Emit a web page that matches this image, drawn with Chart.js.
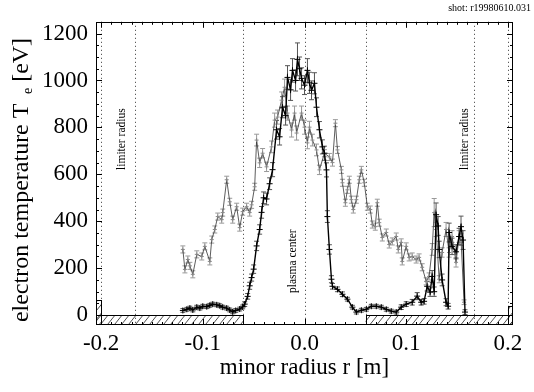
<!DOCTYPE html>
<html>
<head>
<meta charset="utf-8">
<script src="https://cdn.jsdelivr.net/npm/chart.js@4.4.1/dist/chart.umd.min.js"></script>
<style>
    html, body { margin: 0; padding: 0; background: #fff; }
    #wrap { position: relative; width: 534px; height: 392px; }
</style>
</head>
<body>
<div id="wrap"><canvas id="c"></canvas></div>
<script>
(function () {
    'use strict';

    // profile 1 (thick, black): radius [m], Te [eV], error [eV]
    const rA = [-0.1196, -0.1157, -0.1127, -0.1098, -0.1059, -0.1029, -0.1000, -0.0961, -0.0931, -0.0902,
        -0.0863, -0.0833, -0.0804, -0.0765, -0.0735, -0.0706, -0.0676, -0.0637, -0.0608, -0.0588,
        -0.0559, -0.0539, -0.0520, -0.0500, -0.0471, -0.0441, -0.0422, -0.0402, -0.0373, -0.0343,
        -0.0314, -0.0275, -0.0245, -0.0216, -0.0186, -0.0167, -0.0137, -0.0118, -0.0088, -0.0069,
        -0.0049, -0.0029, 0.0000, 0.0029, 0.0049, 0.0069, 0.0098, 0.0118, 0.0147, 0.0176,
        0.0196, 0.0216, 0.0225, 0.0245, 0.0265, 0.0275, 0.0324, 0.0373, 0.0422, 0.0471,
        0.0510, 0.0559, 0.0608, 0.0657, 0.0706, 0.0755, 0.0804, 0.0853, 0.0902, 0.0951,
        0.1000, 0.1059, 0.1108, 0.1147, 0.1176, 0.1206, 0.1235, 0.1255, 0.1275, 0.1294,
        0.1314, 0.1324, 0.1353, 0.1392, 0.1412, 0.1422, 0.1451, 0.1490, 0.1520, 0.1539,
        0.1559, 0.1578];
    const teA = [20, 25, 30, 22, 34, 30, 38, 36, 42, 47,
        44, 40, 34, 30, 22, 14, 20, 26, 35, 47,
        80, 125, 160, 196, 295, 365, 438, 500, 495, 560,
        620, 790, 760, 886, 850, 1013, 960, 1043, 1000, 1090,
        1050, 1009, 980, 1043, 990, 958, 988, 886, 790, 717,
        690, 619, 420, 280, 153, 123, 110, 89, 68, 34,
        13, 21, 25, 38, 38, 34, 25, 17, 13, 34,
        47, 55, 81, 55, 59, 123, 98, 165, 100, 428,
        380, 280, 150, 55, 38, 352, 293, 270, 335, 377,
        320, 13];
    const errA = [8, 8, 8, 8, 8, 8, 8, 8, 8, 8,
        8, 8, 8, 8, 8, 8, 8, 8, 8, 10,
        12, 15, 15, 18, 20, 20, 25, 25, 25, 25,
        30, 40, 35, 45, 40, 50, 45, 50, 45, 70,
        50, 45, 40, 50, 45, 40, 45, 40, 35, 30,
        30, 30, 25, 20, 15, 12, 10, 10, 8, 8,
        8, 8, 8, 8, 8, 8, 8, 8, 8, 10,
        10, 12, 15, 12, 12, 20, 18, 25, 20, 50,
        40, 35, 25, 15, 12, 40, 35, 30, 35, 45,
        40, 10];

    // profile 2 (thin, grey)
    const rB = [-0.1196, -0.1176, -0.1147, -0.1127, -0.1098, -0.1059, -0.1010, -0.0980, -0.0931, -0.0912,
        -0.0882, -0.0853, -0.0814, -0.0804, -0.0765, -0.0735, -0.0706, -0.0667, -0.0637, -0.0608,
        -0.0569, -0.0539, -0.0520, -0.0490, -0.0471, -0.0441, -0.0412, -0.0373, -0.0324, -0.0294,
        -0.0265, -0.0225, -0.0196, -0.0167, -0.0127, -0.0098, -0.0078, -0.0029, 0.0000, 0.0029,
        0.0049, 0.0078, 0.0118, 0.0147, 0.0196, 0.0245, 0.0275, 0.0304, 0.0324, 0.0363,
        0.0373, 0.0402, 0.0422, 0.0441, 0.0461, 0.0480, 0.0510, 0.0539, 0.0559, 0.0588,
        0.0618, 0.0647, 0.0667, 0.0696, 0.0716, 0.0735, 0.0765, 0.0804, 0.0833, 0.0863,
        0.0902, 0.0922, 0.0951, 0.0961, 0.1000, 0.1029, 0.1059, 0.1098, 0.1127, 0.1157,
        0.1196, 0.1225, 0.1255, 0.1275, 0.1294, 0.1324, 0.1353, 0.1392, 0.1422, 0.1451,
        0.1490, 0.1520, 0.1539, 0.1569];
    const teB = [280, 195, 237, 210, 174, 259, 250, 293, 229, 322,
        365, 420, 407, 437, 577, 483, 407, 462, 373, 441,
        462, 437, 470, 547, 746, 649, 690, 632, 717, 831,
        844, 916, 971, 861, 789, 861, 776, 861, 801, 734,
        801, 746, 704, 619, 690, 674, 650, 818, 704, 619,
        564, 479, 534, 577, 492, 450, 492, 577, 619, 564,
        462, 450, 386, 377, 479, 394, 331, 352, 301, 314,
        335, 280, 310, 229, 293, 246, 250, 237, 246, 204,
        144, 165, 280, 437, 365, 153, 267, 365, 267, 335,
        225, 335, 322, 55];
    const errB = [15, 15, 15, 15, 15, 15, 15, 15, 15, 15,
        15, 15, 15, 15, 15, 15, 15, 15, 15, 15,
        15, 15, 15, 15, 25, 20, 20, 20, 25, 30,
        30, 35, 35, 30, 30, 30, 30, 30, 30, 25,
        25, 25, 25, 20, 15, 15, 15, 15, 15, 15,
        15, 15, 15, 15, 15, 15, 15, 15, 15, 15,
        15, 15, 15, 15, 15, 15, 15, 15, 15, 15,
        15, 15, 15, 15, 15, 15, 15, 15, 15, 15,
        15, 15, 25, 60, 30, 15, 20, 30, 20, 25,
        20, 25, 25, 10];

    const xTicks = [-0.2, -0.1, 0.0, 0.1, 0.2];
    const yTicks = [0, 200, 400, 600, 800, 1000, 1200];

    // machine geometry [m]
    const markLines = [-0.2, -0.167, -0.06, 0.0, 0.06, 0.167, 0.2];
    const hatchSpans = [[-0.205, -0.06], [0.06, 0.205]];
    const wallBoxes = [[-0.205, -0.2, 65], [0.2, 0.205, 40]];
    const notes = [
        { text: 'limiter radius', r: -0.179, te: 750 },
        { text: 'limiter radius', r: 0.158, te: 750 },
        { text: 'plasma center', r: -0.011, te: 230 }
    ];

    const FONT = "'Liberation Serif', 'DejaVu Serif', serif";

    function points(rs, ts) {
        return rs.map(function (r, i) { return { x: r, y: ts[i] }; });
    }

    const decor = {
        id: 'decor',
        beforeDatasetsDraw: function (chart) {
            const ctx = chart.ctx;
            const a = chart.chartArea;
            const xs = chart.scales.x;
            const ys = chart.scales.y;
            ctx.save();
            ctx.beginPath();
            ctx.rect(a.left, a.top, a.right - a.left, a.bottom - a.top);
            ctx.clip();

            // dotted marker lines
            ctx.strokeStyle = '#333';
            ctx.lineWidth = 1;
            ctx.setLineDash([1, 3]);
            markLines.forEach(function (r) {
                const x = Math.round(xs.getPixelForValue(r)) + 0.5;
                ctx.beginPath();
                ctx.moveTo(x, a.top);
                ctx.lineTo(x, a.bottom);
                ctx.stroke();
            });
            ctx.setLineDash([]);

            // hatched boxes
            const y0 = ys.getPixelForValue(0);
            function hatch(x1, x2, yt) {
                ctx.save();
                ctx.beginPath();
                ctx.rect(x1, yt, x2 - x1, a.bottom - yt);
                ctx.clip();
                ctx.strokeStyle = '#222';
                ctx.lineWidth = 0.8;
                const h = a.bottom - yt;
                for (let x = x1 - h; x < x2 + 8; x += 7) {
                    ctx.beginPath();
                    ctx.moveTo(x, a.bottom);
                    ctx.lineTo(x + h * 0.8, yt);
                    ctx.stroke();
                }
                ctx.restore();
                ctx.strokeStyle = '#000';
                ctx.lineWidth = 1;
                ctx.strokeRect(Math.round(x1) + 0.5, Math.round(yt) + 0.5, Math.round(x2 - x1), Math.round(a.bottom - yt));
            }
            hatchSpans.forEach(function (s) {
                hatch(xs.getPixelForValue(s[0]), xs.getPixelForValue(s[1]), y0);
            });
            wallBoxes.forEach(function (w) {
                hatch(xs.getPixelForValue(w[0]), xs.getPixelForValue(w[1]), ys.getPixelForValue(w[2]));
            });

            // error bars
            chart.data.datasets.forEach(function (ds) {
                ctx.strokeStyle = ds.errColor;
                ctx.lineWidth = 1;
                ds.data.forEach(function (p, i) {
                    const e = ds.err[i];
                    const x = xs.getPixelForValue(p.x);
                    const yt = ys.getPixelForValue(p.y + e);
                    const yb = ys.getPixelForValue(p.y - e);
                    ctx.beginPath();
                    ctx.moveTo(x, yt);
                    ctx.lineTo(x, yb);
                    ctx.moveTo(x - 2.5, yt);
                    ctx.lineTo(x + 2.5, yt);
                    ctx.moveTo(x - 2.5, yb);
                    ctx.lineTo(x + 2.5, yb);
                    ctx.stroke();
                });
            });
            ctx.restore();
        },
        afterDatasetsDraw: function (chart) {
            const ctx = chart.ctx;
            const a = chart.chartArea;
            const xs = chart.scales.x;
            const ys = chart.scales.y;
            ctx.save();

            // frame
            ctx.strokeStyle = '#000';
            ctx.lineWidth = 1;
            ctx.strokeRect(Math.round(a.left) + 0.5, Math.round(a.top) + 0.5,
                Math.round(a.right - a.left) - 1, Math.round(a.bottom - a.top) - 1);

            // inward ticks on all sides
            ctx.beginPath();
            for (let k = 0; k <= 25; k++) {
                const v = k * 50;
                const y = Math.round(ys.getPixelForValue(v)) + 0.5;
                const len = v % 200 === 0 ? 6 : 3;
                ctx.moveTo(a.left, y); ctx.lineTo(a.left + len, y);
                ctx.moveTo(a.right, y); ctx.lineTo(a.right - len, y);
            }
            for (let k = -20; k <= 20; k++) {
                const x = Math.round(xs.getPixelForValue(k / 100)) + 0.5;
                const len = k % 10 === 0 ? 6 : 3;
                ctx.moveTo(x, a.top); ctx.lineTo(x, a.top + len);
                ctx.moveTo(x, a.bottom); ctx.lineTo(x, a.bottom - len);
            }
            ctx.stroke();

            // vertical notes
            ctx.fillStyle = '#000';
            ctx.font = '11.5px ' + FONT;
            ctx.textAlign = 'center';
            ctx.textBaseline = 'middle';
            notes.forEach(function (n) {
                ctx.save();
                ctx.translate(xs.getPixelForValue(n.r), ys.getPixelForValue(n.te));
                ctx.rotate(-Math.PI / 2);
                ctx.fillText(n.text, 0, 0);
                ctx.restore();
            });

            // shot label
            ctx.font = '10px ' + FONT;
            ctx.textAlign = 'right';
            ctx.textBaseline = 'middle';
            ctx.fillText('shot: r19980610.031', 531, 8);

            // y axis title with subscript
            const big = '24px ' + FONT;
            const small = '14px ' + FONT;
            const parts = [
                { t: 'electron temperature T ', f: big, dy: 0 },
                { t: ' e', f: small, dy: 6 },
                { t: ' [eV]', f: big, dy: 0 }
            ];
            let total = 0;
            parts.forEach(function (p) { ctx.font = p.f; p.w = ctx.measureText(p.t).width; total += p.w; });
            ctx.translate(22, 180);
            ctx.rotate(-Math.PI / 2);
            ctx.textAlign = 'left';
            let cx = -total / 2;
            parts.forEach(function (p) {
                ctx.font = p.f;
                ctx.fillText(p.t, cx, p.dy);
                cx += p.w;
            });
            ctx.restore();
        }
    };

    new Chart(document.getElementById('c'), {
        type: 'line',
        data: {
            datasets: [{
                data: points(rB, teB),
                err: errB,
                errColor: '#999',
                borderColor: '#333',
                borderWidth: 0.8,
                pointStyle: 'cross',
                pointRadius: 2,
                pointBorderColor: '#888',
                pointBorderWidth: 1,
                tension: 0,
                order: 2
            }, {
                data: points(rA, teA),
                err: errA,
                errColor: '#555',
                borderColor: '#000',
                borderWidth: 1.4,
                pointStyle: 'cross',
                pointRadius: 3,
                pointBorderColor: '#000',
                pointBorderWidth: 1,
                tension: 0,
                order: 1
            }]
        },
        options: {
            responsive: true,
            maintainAspectRatio: false,
            animation: false,
            devicePixelRatio: 1,
            layout: { padding: { left: 0, top: 21, right: 21, bottom: 0 } },
            plugins: { legend: { display: false }, tooltip: { enabled: false } },
            scales: {
                x: {
                    type: 'linear',
                    min: -0.205,
                    max: 0.205,
                    grid: { display: false, drawTicks: false },
                    border: { display: false },
                    afterBuildTicks: function (s) { s.ticks = xTicks.map(function (v) { return { value: v }; }); },
                    afterFit: function (s) { s.height = 67; },
                    ticks: {
                        padding: 5,
                        color: '#000',
                        maxRotation: 0,
                        font: { family: FONT, size: 23 },
                        callback: function (v) { return Number(v).toFixed(1); }
                    },
                    title: {
                        display: true,
                        text: 'minor radius r [m]',
                        color: '#000',
                        font: { family: FONT, size: 23 },
                        padding: { top: 0, bottom: 10 }
                    }
                },
                y: {
                    type: 'linear',
                    min: -42,
                    max: 1250,
                    grid: { display: false, drawTicks: false },
                    border: { display: false },
                    afterBuildTicks: function (s) { s.ticks = yTicks.map(function (v) { return { value: v }; }); },
                    afterFit: function (s) { s.width = 96; },
                    ticks: {
                        padding: 8,
                        color: '#000',
                        font: { family: FONT, size: 23 },
                        callback: function (v) { return String(v); }
                    }
                }
            }
        },
        plugins: [decor]
    });
})();
</script>
</body>
</html>
